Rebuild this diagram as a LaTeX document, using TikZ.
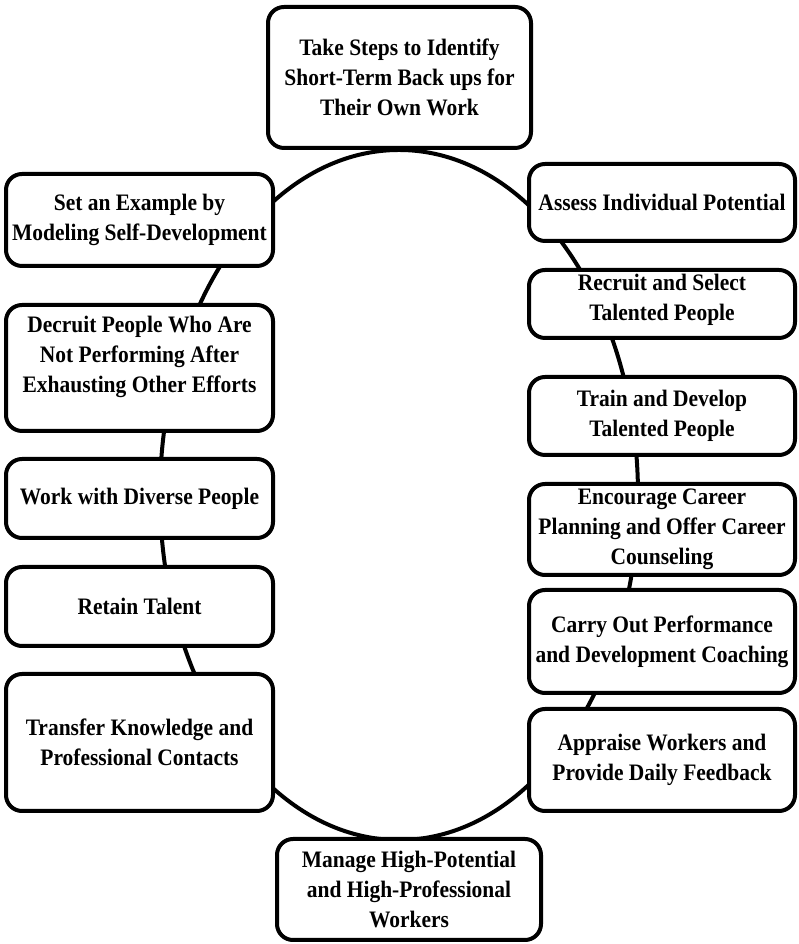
\documentclass[tikz,border=0pt]{standalone}
\usepackage{fontspec}
\setmainfont{Liberation Serif}[FakeStretch=0.91]
\begin{document}
\begin{tikzpicture}[x=1pt,y=1pt,
  box/.style={draw=black, line width=4pt, fill=white, rounded corners=16pt,
    align=center, inner sep=2pt, font=\bfseries\fontsize{23.6}{30}\selectfont},
  ring/.style={draw=black, line width=4pt}]
\useasboundingbox (0,0) rectangle (798,944);
\coordinate (c) at (399,449);
\draw[ring] (c) ellipse [x radius=239, y radius=345];
% top
\node[box, minimum width=263, minimum height=141] (take) at (399.5,866.5)
  {Take Steps to Identify\\Short-Term Back ups for\\Their Own Work};
% left column
\node[box, minimum width=267, minimum height=92] (set) at (139.5,724)
  {Set an Example by\\Modeling Self-Development};
\node[box, minimum width=267, minimum height=126, text depth=28pt] (decruit) at (139.5,576)
  {Decruit People Who Are\\Not Performing After\\Exhausting Other Efforts};
\node[box, minimum width=267, minimum height=79] (work) at (139.5,445.5)
  {Work with Diverse People};
\node[box, minimum width=267, minimum height=79] (retain) at (139.5,337.5)
  {Retain Talent};
\node[box, minimum width=267, minimum height=137] (transfer) at (139.5,201.5)
  {Transfer Knowledge and\\Professional Contacts};
% right column
\node[box, minimum width=266, minimum height=77] (assess) at (662,741.5)
  {Assess Individual Potential};
\node[box, minimum width=266, minimum height=68, text depth=14pt] (recruit) at (662,640)
  {Recruit and Select\\Talented People};
\node[box, minimum width=266, minimum height=78] (train) at (662,528)
  {Train and Develop\\Talented People};
\node[box, minimum width=266, minimum height=91] (encourage) at (662,414.5)
  {Encourage Career\\Planning and Offer Career\\Counseling};
\node[box, minimum width=266, minimum height=103] (carry) at (662,302.5)
  {Carry Out Performance\\and Development Coaching};
\node[box, minimum width=266, minimum height=102] (appraise) at (662,184)
  {Appraise Workers and\\Provide Daily Feedback};
% bottom
\node[box, minimum width=264, minimum height=101] (manage) at (409,54.5)
  {Manage High-Potential\\and High-Professional\\Workers};
\end{tikzpicture}
\end{document}
